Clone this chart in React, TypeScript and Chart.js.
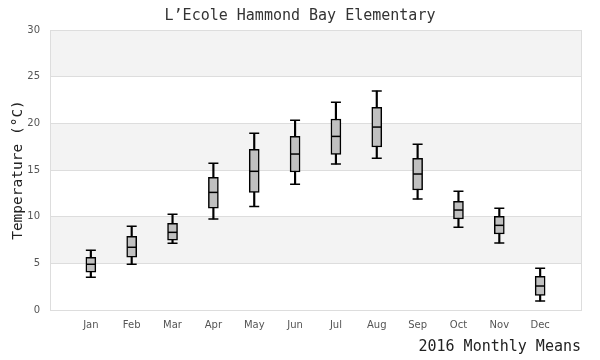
import React, { useEffect, useRef } from "react";
import { Chart, registerables } from "chart.js";

Chart.register(...registerables);

const months = ["Jan", "Feb", "Mar", "Apr", "May", "Jun", "Jul", "Aug", "Sep", "Oct", "Nov", "Dec"];
const lows = [3.5, 4.9, 7.15, 9.75, 11.1, 13.46, 15.64, 16.25, 11.89, 8.86, 7.18, 0.96];
const q1s = [4.04, 5.65, 7.47, 10.9, 12.6, 14.79, 16.68, 17.46, 12.86, 9.75, 8.14, 1.57];
const medians = [4.9, 6.72, 8.32, 12.6, 14.86, 16.71, 18.6, 19.6, 14.57, 10.71, 9.07, 2.57];
const q3s = [5.65, 7.9, 9.29, 14.21, 17.21, 18.6, 20.46, 21.71, 16.25, 11.64, 10.04, 3.61];
const highs = [6.4, 8.97, 10.25, 15.71, 18.93, 20.32, 22.25, 23.46, 17.75, 12.71, 10.89, 4.46];
const yTicks = [0, 5, 10, 15, 20, 25, 30];
const bandRanges: [number, number][] = [[5, 10], [15, 20], [25, 30]];

const TITLE = "L\u2019Ecole Hammond Bay Elementary";
const Y_TITLE = "Temperature (\u00B0C)";
const X_TITLE = "2016 Monthly Means";

const pad = <T,>(arr: T[]): (T | null)[] => [null, ...arr, null];

const bandsPlugin = {
  id: "bands",
  beforeDraw(chart: any) {
    const { ctx, chartArea, scales } = chart;
    const y = scales.y;
    ctx.save();
    ctx.fillStyle = "#f3f3f3";
    for (const [a, b] of bandRanges) {
      const top = y.getPixelForValue(b);
      const bot = y.getPixelForValue(a);
      ctx.fillRect(chartArea.left, top, chartArea.right - chartArea.left, bot - top);
    }
    ctx.restore();
  },
};

export default function App() {
  const ref = useRef<HTMLCanvasElement | null>(null);
  useEffect(() => {
    document.body.style.margin = "0";
    const canvas = ref.current;
    if (!canvas) return;
    const labels = ["", ...months, ""];
    const whisker = pad(lows.map((l, i) => [l, highs[i]] as [number, number]));
    const box = pad(q1s.map((q, i) => [q, q3s[i]] as [number, number]));
    const capStyle = {
      type: "line",
      showLine: false,
      pointStyle: "line",
      pointBorderWidth: 1.5,
      pointBorderColor: "#000",
      order: 0,
    };
    const chart = new Chart(canvas, {
      type: "bar",
      data: {
        labels,
        datasets: [
          { ...capStyle, label: "median", data: pad(medians) as any, pointRadius: 4.5 } as any,
          { ...capStyle, label: "high", data: pad(highs) as any, pointRadius: 5 } as any,
          { ...capStyle, label: "low", data: pad(lows) as any, pointRadius: 5 } as any,
          {
            label: "box",
            data: box as any,
            backgroundColor: "#c0c0c0",
            borderColor: "#000",
            borderWidth: 1.5,
            borderSkipped: false,
            barThickness: 10,
            grouped: false,
            order: 1,
          } as any,
          {
            label: "whisker",
            data: whisker as any,
            backgroundColor: "#000",
            borderWidth: 0,
            barThickness: 1.5,
            grouped: false,
            order: 2,
          } as any,
        ],
      },
      options: {
        animation: false,
        responsive: false,
        events: [],
        layout: { padding: 0 },
        plugins: {
          legend: { display: false },
          tooltip: { enabled: false },
          title: {
            display: true,
            text: TITLE,
            color: "#333",
            font: { family: "DejaVu Sans Mono", size: 15, weight: "normal", lineHeight: 1.2 },
            padding: { top: 7, bottom: 5 },
          },
        },
        scales: {
          x: {
            type: "category",
            offset: false,
            grid: { display: false, offset: false, drawTicks: false },
            border: { display: true, color: "#dddddd", width: 1 },
            ticks: {
              color: "#555",
              font: { family: "DejaVu Sans", size: 10 },
              padding: 9,
              maxRotation: 0,
              autoSkip: false,
            },
            title: {
              display: true,
              text: X_TITLE,
              align: "end",
              color: "#222",
              font: { family: "DejaVu Sans Mono", size: 15, weight: "normal", lineHeight: 1.2 },
              padding: { top: 0, bottom: 4 },
            },
            afterFit: (s: any) => {
              s.height = 50;
            },
          },
          y: {
            min: 0,
            max: 30,
            afterBuildTicks: (s: any) => {
              s.ticks = yTicks.map((v) => ({ value: v }));
            },
            grid: { color: "#dddddd", lineWidth: 1, drawTicks: false },
            border: { display: true, color: "#dddddd", width: 1 },
            ticks: {
              color: "#555",
              font: { family: "DejaVu Sans", size: 10 },
              padding: 10,
            },
            title: {
              display: true,
              text: Y_TITLE,
              color: "#222",
              font: { family: "DejaVu Sans Mono", size: 14.5, weight: "normal", lineHeight: 1.2 },
              padding: { top: 10, bottom: 0 },
            },
            afterFit: (s: any) => {
              s.width = 50;
            },
          },
          y2: {
            position: "right",
            min: 0,
            max: 30,
            grid: { display: false },
            border: { display: true, color: "#dddddd", width: 1 },
            ticks: { display: false },
            afterFit: (s: any) => {
              s.width = 19;
            },
          },
        },
      } as any,
      plugins: [bandsPlugin],
    });
    return () => chart.destroy();
  }, []);
  return (
    <div style={{ width: 600, height: 360 }}>
      <canvas ref={ref} width={600} height={360} style={{ display: "block" }} />
    </div>
  );
}
